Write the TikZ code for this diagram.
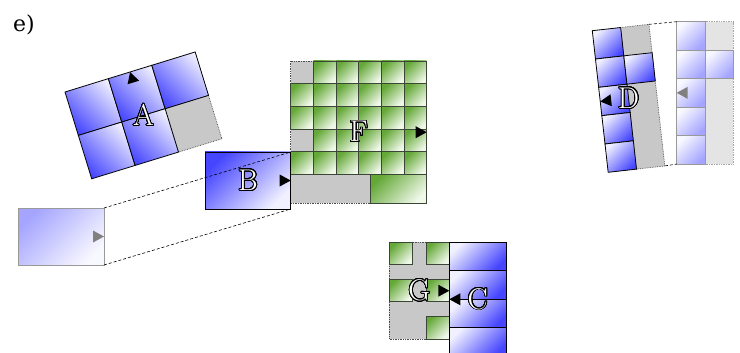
\documentclass[tikz,border=0pt]{standalone}
\usepackage{fontspec}
\newfontfamily\tagfont{DejaVu Serif}
\usepackage{contour}
\contourlength{0.9pt}
\contournumber{32}
\definecolor{bdark}{RGB}{70,70,255}
\definecolor{blight}{RGB}{240,240,255}
\definecolor{gdark}{RGB}{100,168,55}
\definecolor{glight}{RGB}{240,248,234}
\definecolor{grayfill}{RGB}{200,200,200}
\definecolor{pgray}{RGB}{228,228,228}
\definecolor{gbdark}{RGB}{165,165,255}
\definecolor{gblight}{RGB}{248,248,255}
\definecolor{gedge}{RGB}{60,70,55}
\tikzset{
  bcellA/.style={draw=black, line width=0.8pt, top color=blight, bottom color=bdark, shading angle=-45},
  bcellTL/.style={draw=black, line width=0.8pt, top color=bdark, bottom color=blight, shading angle=45},
  bcellBR/.style={draw=black, line width=0.8pt, top color=blight, bottom color=bdark, shading angle=45},
  gcell/.style={draw=gedge, line width=0.8pt, top color=gdark, bottom color=glight, shading angle=45},
  ghostcell/.style={draw=black!40, line width=0.8pt, top color=gblight, bottom color=gbdark, shading angle=45},
  ghostB/.style={draw=black!40, line width=0.8pt, top color=gbdark, bottom color=gblight, shading angle=45},
  grayreg/.style={fill=grayfill, draw=black!70, densely dotted, line width=0.7pt},
  pgrayreg/.style={fill=pgray, draw=black!35, densely dotted, line width=0.7pt},
  conn/.style={draw=black, densely dashed, line width=0.6pt},
  lab/.style={inner sep=0pt, font=\fontsize{30}{30}\selectfont},
  tip/.style={fill=black},
  ghosttip/.style={fill=black!50},
}
\newcommand\olab[1]{{\color{white}\contour{black}{#1}}}
\begin{document}
\begin{tikzpicture}[x=1pt,y=-1pt]
\useasboundingbox (0,0) rectangle (740,353);
\clip (0,0) rectangle (740,353);
\fill[white] (0,0) rectangle (740,353);

% tag
\node[anchor=base west, inner sep=0pt, font=\tagfont\fontsize{22}{22}\selectfont] (tag) at (13,32) {e)};

% ---------------- A ----------------
\begin{scope}[shift={(65,92)}, rotate=17.1]
  \path[grayreg] (90.8,45.4) rectangle (136.2,90.8);
  \foreach \c/\r in {0/0,1/0,2/0,0/1,1/1}
    \path[bcellA] (\c*45.4,\r*45.4) rectangle ++(45.4,45.4);
  \fill[tip] (68.1,0) -- (62.1,11) -- (74.1,11) -- cycle;
  \node[lab] (A) at (68.1,45.4) {\olab{A}};
\end{scope}

% ---------------- F ----------------
\path[grayreg] (290.7,61) rectangle (426.7,203.3);
\foreach \r in {0,...,4}
  \foreach \c in {0,...,5}{
    \pgfmathparse{(\c==0 && (\r==0 || \r==3)) ? 1 : 0}
    \ifnum\pgfmathresult=0
      \path[gcell] (290.7+\c*22.667,61+\r*22.667) rectangle ++(22.667,22.667);
    \fi
  }
\path[gcell] (370,174.33) rectangle (426.7,203.3);
\fill[tip] (426.7,132.2) -- (415.7,126.2) -- (415.7,138.2) -- cycle;
\node[lab] (F) at (358.7,132.2) {\olab{F}};

% ---------------- ghost B and B ----------------
\path[ghostB] (18,208) rectangle (104,265);
\fill[ghosttip] (104,236.5) -- (93,230.5) -- (93,242.5) -- cycle;
\coordinate (gBtr) at (104,208);
\coordinate (gBbr) at (104,265);

\path[bcellTL] (205,152) rectangle (290.7,209);
\fill[tip] (290.7,180.5) -- (279.7,174.5) -- (279.7,186.5) -- cycle;
\node[lab] (B) at (248,180.5) {\olab{B}};
\coordinate (Btr) at (290.7,152);
\coordinate (Bbr) at (290.7,209);
\draw[conn] (gBtr) -- (Btr);
\draw[conn] (gBbr) -- (Bbr);

% ---------------- ghost D ----------------
\path[pgrayreg] (705,21.7) rectangle (733.3,164);
\foreach \r in {0,...,4}
  \path[ghostcell] (676.7,21.7+\r*28.46) rectangle ++(28.3,28.46);
\path[ghostcell] (705,50.16) rectangle ++(28.3,28.46);
\fill[ghosttip] (676.7,92.85) -- (687.7,86.85) -- (687.7,98.85) -- cycle;
\coordinate (gDtl) at (676.7,21.7);
\coordinate (gDbl) at (676.7,164);

% ---------------- D ----------------
\begin{scope}[shift={(592.3,30.7)}, rotate=6.4]
  \path[grayreg] (28.5,0) rectangle (57,142.5);
  \foreach \r in {0,...,4}
    \path[bcellBR] (0,\r*28.5) rectangle ++(28.5,28.5);
  \path[bcellBR] (28.5,28.5) rectangle ++(28.5,28.5);
  \fill[tip] (0,71.25) -- (11,65.25) -- (11,77.25) -- cycle;
  \coordinate (Dtr) at (57,0);
  \coordinate (Dbr) at (57,142.5);
  \node[lab] (D) at (28.5,71.25) {\olab{D}};
\end{scope}
\draw[conn] (Dtr) -- (gDtl);
\draw[conn] (Dbr) -- (gDbl);

% ---------------- G ----------------
\path[grayreg] (389.3,242.3) rectangle (449.3,339);
\path[gcell] (389.3,242.3) rectangle (412.7,264.3);
\path[gcell] (426,242.3) rectangle (449.3,264.3);
\path[gcell] (389.3,279) rectangle (412.7,301.7);
\path[gcell] (426,279) rectangle (449.3,301.7);
\path[gcell] (426,316) rectangle (449.3,339);

% ---------------- C ----------------
\foreach \r in {0,...,3}
  \path[bcellBR] (449.3,242.3+\r*28.5) rectangle ++(56.7,28.5);
\fill[tip] (449.3,290.7) -- (438.3,284.7) -- (438.3,296.7) -- cycle;
\fill[tip] (449.3,299.3) -- (460.3,293.3) -- (460.3,305.3) -- cycle;
\node[lab] (G) at (419.3,290.7) {\olab{G}};
\node[lab] (C) at (477.7,299.3) {\olab{C}};
\end{tikzpicture}
\end{document}
